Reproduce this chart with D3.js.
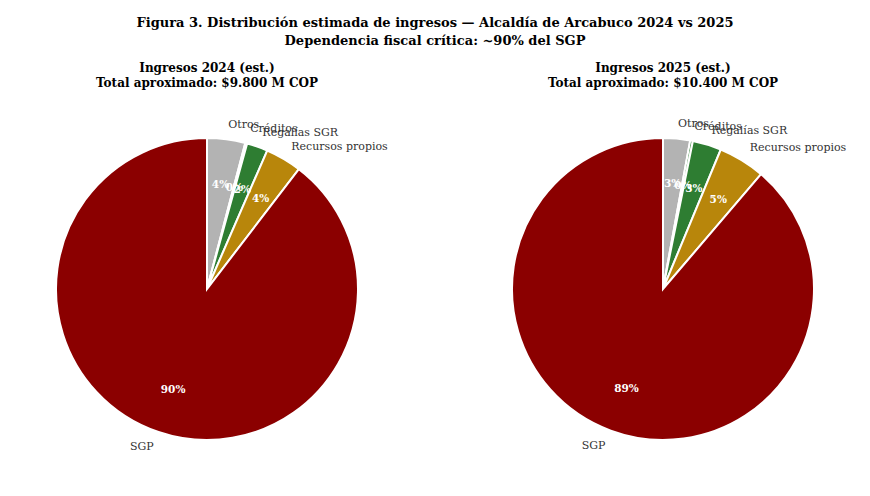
<!DOCTYPE html>
<html><head><meta charset="utf-8">
<script src="https://cdn.jsdelivr.net/npm/d3@7"></script>
<style>body{margin:0;background:#fff}text{font-family:"DejaVu Serif","Liberation Serif",serif}</style>
</head><body>
<script>
// categories and values (M COP, estimated)
var categories = ['Otros', 'Créditos', 'Regalías SGR', 'Recursos propios', 'SGP'];
var colors = ['#b3b3b3', '#2e7d32', '#2e7d32', '#b8860b', '#8b0000'];
var values2024 = [400, 20, 220, 380, 8780];
var values2025 = [300, 30, 320, 520, 9230];
var titles = ['Ingresos 2024 (est.)', 'Ingresos 2025 (est.)'];
var totals = ['Total aproximado: $9.800 M COP', 'Total aproximado: $10.400 M COP'];

var width = 870, height = 496, r = 151;
var svg = d3.select('body').append('svg').attr('width', width).attr('height', height);

svg.append('text').attr('x', 435).attr('y', 27).attr('text-anchor', 'middle')
  .attr('font-size', 13).attr('font-weight', 'bold')
  .text('Figura 3. Distribución estimada de ingresos — Alcaldía de Arcabuco 2024 vs 2025');
svg.append('text').attr('x', 435).attr('y', 45).attr('text-anchor', 'middle')
  .attr('font-size', 13).attr('font-weight', 'bold')
  .text('Dependencia fiscal crítica: ~90% del SGP');

var pie = d3.pie().sort(null).value(function(d) {return d;});
var arc = d3.arc().innerRadius(0).outerRadius(r);

[values2024, values2025].forEach(function(vals, i) {
  var cx = [207, 663][i], cy = 289;
  svg.append('text').attr('x', cx).attr('y', 72).attr('text-anchor', 'middle')
    .attr('font-size', 12).attr('font-weight', 'bold').text(titles[i]);
  svg.append('text').attr('x', cx).attr('y', 87).attr('text-anchor', 'middle')
    .attr('font-size', 12).attr('font-weight', 'bold').text(totals[i]);
  var g = svg.append('g').attr('transform', 'translate(' + cx + ',' + cy + ')');
  var total = d3.sum(vals);
  var arcs = pie(vals);
  g.selectAll('path').data(arcs).enter().append('path')
    .attr('d', arc)
    .attr('fill', function(d, j) {return colors[j];})
    .attr('stroke', '#fff').attr('stroke-width', 2);
  arcs.forEach(function(d, j) {
    var a = (d.startAngle + d.endAngle) / 2;
    var sx = Math.sin(a), sy = -Math.cos(a);
    g.append('text').attr('x', sx * r * 1.1).attr('y', sy * r * 1.1)
      .attr('dy', '0.35em').attr('font-size', 11).attr('fill', '#333')
      .attr('text-anchor', sx >= 0 ? 'start' : 'end').text(categories[j]);
    g.append('text').attr('x', sx * r * 0.7).attr('y', sy * r * 0.7)
      .attr('dy', '0.35em').attr('font-size', 10.5).attr('font-weight', 'bold')
      .attr('fill', '#fff').attr('text-anchor', 'middle')
      .text(Math.round(d.value / total * 100) + '%');
  });
});
</script>
</body></html>
